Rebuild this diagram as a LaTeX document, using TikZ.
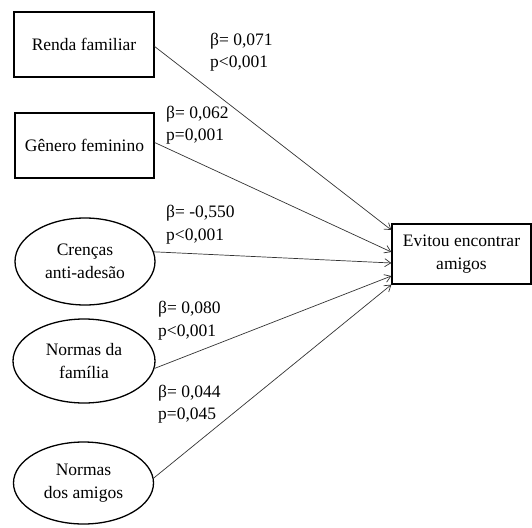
\documentclass[tikz,border=0pt]{standalone}
\usepackage{fontspec}
\setmainfont{Liberation Serif}
\usetikzlibrary{shapes.geometric,arrows.meta}
\begin{document}
\begin{tikzpicture}[x=1pt,y=-1pt,
  every node/.style={font=\fontsize{17.5}{22.5}\selectfont, inner sep=0pt},
  varbox/.style={draw, line width=1.3pt, rectangle, align=center},
  latent/.style={draw, line width=1.3pt, ellipse, align=center},
  coef/.style={anchor=west, align=left},
  path/.style={draw=black!80, line width=0.7pt, -{Straight Barb[length=6pt,width=8pt]}}]
\useasboundingbox (0,0) rectangle (532,527);
\node[varbox, minimum width=140pt, minimum height=65pt] (renda) at (84,44.5) {Renda familiar};
\node[varbox, minimum width=139pt, minimum height=65pt] (genero) at (84.5,145.5) {Gênero feminino};
\node[latent, minimum width=140pt, minimum height=87pt] (crencas) at (85,261.5) {Crenças\\anti-adesão};
\node[latent, minimum width=142pt, minimum height=84pt] (familia) at (84,361) {Normas da\\família};
\node[latent, minimum width=140pt, minimum height=82pt] (amigos) at (83.5,483) {Normas\\dos amigos};
\node[varbox, minimum width=139pt, minimum height=60pt] (evitou) at (461.5,254) {Evitou encontrar\\amigos};
\node[coef] (c1) at (210,52) {β= 0,071\\p<0,001};
\node[coef] (c2) at (166,125) {β= 0,062\\p=0,001};
\node[coef] (c3) at (166,224.5) {β= -0,550\\p<0,001};
\node[coef] (c4) at (158,320.5) {β= 0,080\\p<0,001};
\node[coef] (c5) at (158,404) {β= 0,044\\p=0,045};
\draw[path] ([yshift=-2pt]renda.east) -- ([yshift=24pt]evitou.west);
\draw[path] ([yshift=3pt]genero.east) -- ([yshift=2pt]evitou.west);
\draw[path] (crencas.8) -- ([yshift=-9pt]evitou.west);
\draw[path] (familia.-6) -- ([yshift=-22pt]evitou.west);
\draw[path] (amigos.4) -- (evitou.south west);
\end{tikzpicture}
\end{document}
